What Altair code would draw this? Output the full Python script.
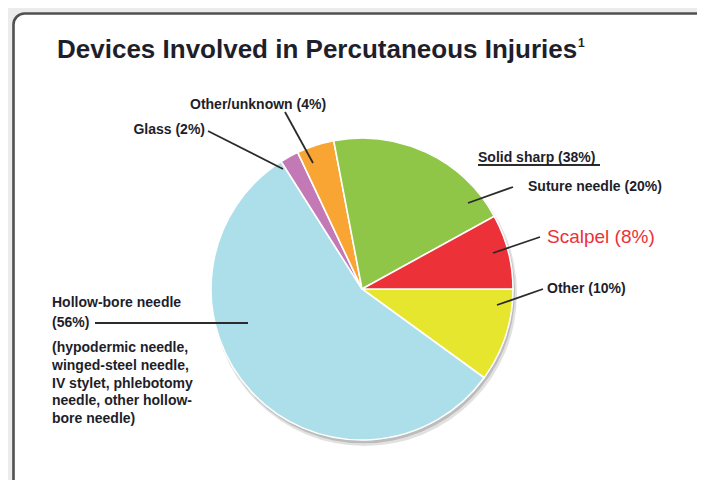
import math
import altair as alt
import pandas as pd

# ---- data ----
slice_names = ["Other", "Hollow-bore needle", "Glass", "Other/unknown", "Suture needle", "Scalpel"]
slice_values = [10, 56, 2, 4, 20, 8]
slice_colors = ["#e7e62f", "#acdfe9", "#c479b7", "#f8a533", "#8fc647", "#ec3138"]

title_text = "Devices Involved in Percutaneous Injuries"
title_note = "1"
label_texts = ["Glass (2%)", "Other/unknown (4%)", "Solid sharp (38%)", "Suture needle (20%)",
               "Other (10%)", "Hollow-bore needle", "(56%)", "(hypodermic needle,",
               "winged-steel needle,", "IV stylet, phlebotomy", "needle, other hollow-",
               "bore needle)"]
scalpel_label = "Scalpel (8%)"

# ---- layout (pixel positions, chart coordinates) ----
W, H = 689, 472
CX, CY, R = 354, 281, 151
label_x = [197, 182, 470, 520, 539, 44, 44, 44, 44, 44, 44, 44]
label_y = [122, 97, 150, 179, 281, 295, 315, 340, 358, 376, 393, 411]
label_align = ["right", "left", "left", "left", "left", "left", "left", "left", "left", "left", "left", "left"]
scalpel_xy = (539, 229)
leader_x = [200, 277, 505, 532, 535, 87, 470]
leader_y = [123, 104, 179, 229, 281, 315, 157]
leader_x2 = [275, 305, 460, 485, 489, 240, 592]
leader_y2 = [161, 155, 195, 245, 297, 315, 157]

pie_df = pd.DataFrame({
    "device": slice_names,
    "value": slice_values,
    "order": list(range(len(slice_names))),
})
labels_df = pd.DataFrame({"text": label_texts, "x": label_x, "y": label_y, "align": label_align})
lines_df = pd.DataFrame({"x": leader_x, "y": leader_y, "x2": leader_x2, "y2": leader_y2})
one = pd.DataFrame({"k": [0]})

frame = alt.Chart(one).mark_rect(
    fill="white", stroke="#505050", strokeWidth=2.6, cornerRadius=11
).encode(x=alt.value(5.5), x2=alt.value(760), y=alt.value(5.5), y2=alt.value(560))

shadow1 = alt.Chart(one).mark_arc(
    radius=R + 1.5, theta=0, theta2=2 * math.pi, xOffset=2.5, yOffset=4.5,
    color="#777777", opacity=0.22
).encode(x=alt.value(CX), y=alt.value(CY))
shadow2 = alt.Chart(one).mark_arc(
    radius=R + 0.5, theta=0, theta2=2 * math.pi, xOffset=1.5, yOffset=2.8,
    color="#777777", opacity=0.35
).encode(x=alt.value(CX), y=alt.value(CY))

pie = alt.Chart(pie_df).mark_arc(
    outerRadius=R, stroke="white", strokeWidth=1.6
).encode(
    theta=alt.Theta("value:Q", stack=True,
                    scale=alt.Scale(range=[math.pi / 2, math.pi / 2 + 2 * math.pi])),
    color=alt.Color("device:N", scale=alt.Scale(domain=slice_names, range=slice_colors), legend=None),
    order=alt.Order("order:Q"),
    x=alt.value(CX), y=alt.value(CY),
)

lines = alt.Chart(lines_df).mark_rule(color="#2b2b2b", strokeWidth=1.8).encode(
    x=alt.X("x:Q", scale=None), y=alt.Y("y:Q", scale=None),
    x2="x2:Q", y2="y2:Q",
)

labels_left = alt.Chart(labels_df[labels_df["align"] == "left"]).mark_text(
    align="left", baseline="middle", font="Liberation Sans", fontSize=14,
    fontWeight="bold", color="#1e1e2a"
).encode(x=alt.X("x:Q", scale=None), y=alt.Y("y:Q", scale=None), text="text:N")

labels_right = alt.Chart(labels_df[labels_df["align"] == "right"]).mark_text(
    align="right", baseline="middle", font="Liberation Sans", fontSize=14,
    fontWeight="bold", color="#1e1e2a"
).encode(x=alt.X("x:Q", scale=None), y=alt.Y("y:Q", scale=None), text="text:N")

scalpel = alt.Chart(pd.DataFrame({"text": [scalpel_label]})).mark_text(
    align="left", baseline="middle", font="Liberation Sans", fontSize=19,
    color="#ec3138"
).encode(x=alt.value(scalpel_xy[0]), y=alt.value(scalpel_xy[1]), text="text:N")

title = alt.Chart(pd.DataFrame({"text": [title_text]})).mark_text(
    align="left", baseline="alphabetic", font="Liberation Sans", fontSize=26,
    fontWeight="bold", color="#1f1f2b"
).encode(x=alt.value(49), y=alt.value(50), text="text:N")

note = alt.Chart(pd.DataFrame({"text": [title_note]})).mark_text(
    align="left", baseline="alphabetic", font="Liberation Sans", fontSize=12,
    fontWeight="bold", color="#1f1f2b"
).encode(x=alt.value(570), y=alt.value(39), text="text:N")

chart = alt.layer(
    frame, shadow1, shadow2, pie, lines, labels_left, labels_right, scalpel, title, note
).properties(
    width=W, height=H, padding=0, background="#ececec",
    autosize=alt.AutoSizeParams(type="none"),
).configure_view(stroke=None)

chart.save("out.html", embed_options={"renderer": "svg", "actions": False})
